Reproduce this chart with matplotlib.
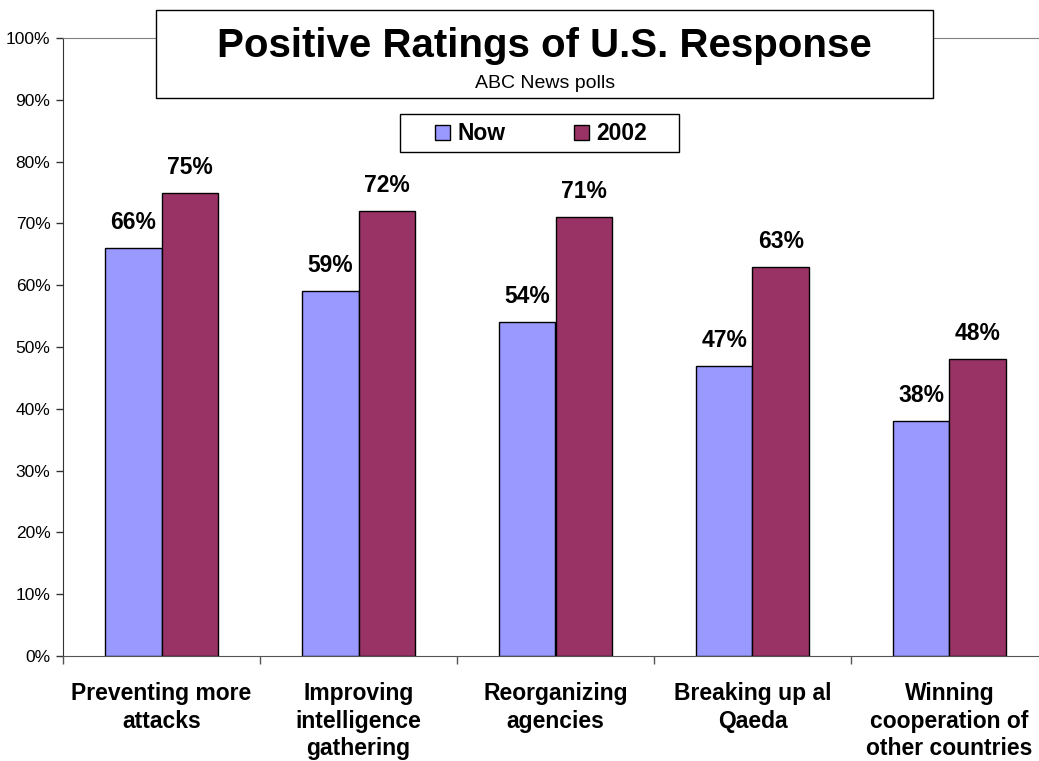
import numpy as np
import matplotlib
matplotlib.use('Agg')
import matplotlib.pyplot as plt
from matplotlib.patches import Patch, Rectangle

plt.rcParams['font.family'] = ['Liberation Sans', 'DejaVu Sans']

categories = ['Preventing more\nattacks', 'Improving\nintelligence\ngathering',
              'Reorganizing\nagencies', 'Breaking up al\nQaeda',
              'Winning\ncooperation of\nother countries']
now_vals = [66, 59, 54, 47, 38]
vals_2002 = [75, 72, 71, 63, 48]
series_names = ['Now', '2002']
yticks = [0, 10, 20, 30, 40, 50, 60, 70, 80, 90, 100]

COL_NOW = '#9999FF'
COL_2002 = '#993366'

fig = plt.figure(figsize=(10.39, 7.61), dpi=100)
ax = fig.add_axes([63 / 1039, 1 - 656 / 761, 985 / 1039, 618 / 761])

x = np.arange(len(categories))
w = 0.287
ax.bar(x - w / 2, now_vals, w, color=COL_NOW, edgecolor='black', linewidth=1, zorder=3)
ax.bar(x + w / 2, vals_2002, w, color=COL_2002, edgecolor='black', linewidth=1, zorder=3)

for xi, v in zip(x, now_vals):
    ax.annotate(f'{v}%', (xi - w / 2, v), xytext=(0, 10), textcoords='offset points',
                ha='center', va='bottom', fontsize=16.5, fontweight='bold')
for xi, v in zip(x, vals_2002):
    ax.annotate(f'{v}%', (xi + w / 2, v), xytext=(0, 10), textcoords='offset points',
                ha='center', va='bottom', fontsize=16.5, fontweight='bold')

ax.set_xlim(-0.5, len(categories) - 0.5)
ax.set_ylim(0, 100)
ax.set_yticks(yticks)
ax.set_yticklabels([f'{t}%' for t in yticks], fontsize=12.5)
ax.tick_params(axis='y', length=5, width=1, pad=4, color='#333333')

ax.set_xticks(x)
ax.set_xticklabels(categories, fontsize=16.5, fontweight='bold', linespacing=1.24)
ax.tick_params(axis='x', which='major', length=0, pad=19)
ax.set_xticks(np.arange(len(categories)) - 0.5, minor=True)
ax.tick_params(axis='x', which='minor', length=6, width=1, color='#555555')

ax.spines['right'].set_visible(False)
ax.spines['top'].set_color('#808080')
ax.spines['left'].set_color('#333333')
ax.spines['bottom'].set_color('#555555')

# title box
fig.patches.append(Rectangle((156 / 1039, 1 - 98 / 761), 777 / 1039, 88 / 761,
                             transform=fig.transFigure, facecolor='white',
                             edgecolor='black', linewidth=1, zorder=5))
fig.text(544 / 1039, 1 - 57 / 761, 'Positive Ratings of U.S. Response', ha='center',
         va='baseline', fontsize=29, fontweight='bold', zorder=6)
fig.text(545 / 1039, 1 - 88 / 761, 'ABC News polls', ha='center', va='baseline',
         fontsize=14, zorder=6)

# legend box
fig.patches.append(Rectangle((400 / 1039, 1 - 152 / 761), 279 / 1039, 38 / 761,
                             transform=fig.transFigure, facecolor='white',
                             edgecolor='black', linewidth=1, zorder=5))
handles = [Patch(facecolor=COL_NOW, edgecolor='black'),
           Patch(facecolor=COL_2002, edgecolor='black')]
leg = fig.legend(handles, series_names, loc='center', ncol=2,
                 bbox_to_anchor=(541 / 1039, 1 - 134 / 761),
                 prop={'weight': 'bold', 'size': 16.5}, frameon=False,
                 handlelength=0.65, handleheight=0.65, handletextpad=0.3,
                 columnspacing=3.0, borderpad=0, borderaxespad=0)
leg.set_zorder(6)

fig.savefig('out.png', dpi=100)
